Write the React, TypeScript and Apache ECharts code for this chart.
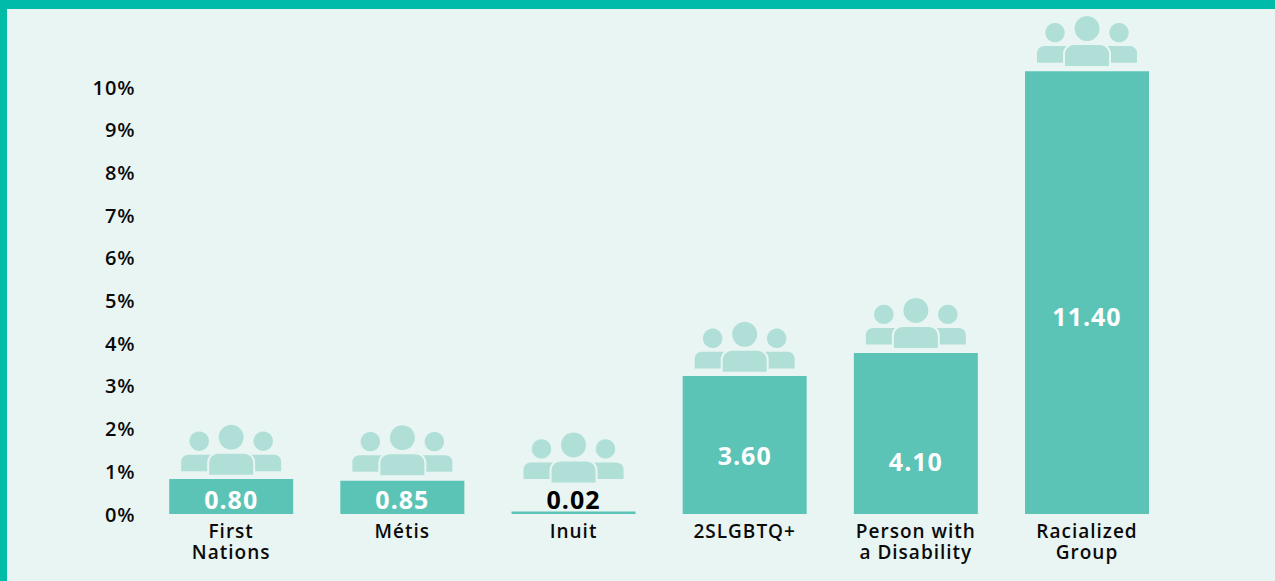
import React, { useEffect, useRef } from "react";
import * as echarts from "echarts";

const categories = ["First\nNations", "Métis", "Inuit", "2SLGBTQ+", "Person with\na Disability", "Racialized\nGroup"];
// Bar heights as drawn against the axis
const barHeights = [0.82, 0.78, 0.06, 3.23, 3.77, 10.37];
// Printed labels
const printedLabels = ["0.80", "0.85", "0.02", "3.60", "4.10", "11.40"];
// Axis level at which each printed label sits
const labelLevels = [0.36, 0.34, 0.35, 1.38, 1.23, 4.63];
// Axis level of the foot of each people icon
const iconLevels = [0.92, 0.91, 0.74, 3.33, 3.89, 10.49];
const axisMax = 12;
const shownMax = 10;

const BG = "#E9F5F3";
const EDGE = "#00BBA8";
const BAR = "#5CC4B6";
const ICON = "#B0DFD7";
const FONT = "'Open Sans', sans-serif";

function renderIcon(_params: any, api: any) {
  const [cx, base] = api.coord([api.value(0), api.value(1)]);
  const s = { fill: ICON };
  const rect = (x: number, y: number, w: number, h: number, r: number[], style: any) => ({
    type: "rect",
    shape: { x: cx + x, y: base + y, width: w, height: h, r },
    style,
  });
  const circle = (x: number, y: number, r: number) => ({
    type: "circle",
    shape: { cx: cx + x, cy: base + y, r },
    style: s,
  });
  return {
    type: "group",
    children: [
      circle(-32, -33.5, 9.7),
      circle(32, -33.5, 9.7),
      circle(0, -37.5, 12.5),
      rect(-50, -20, 32, 16.6, [7, 0, 0, 0], s),
      rect(18, -20, 32, 16.6, [0, 7, 0, 0], s),
      rect(-23, -22, 46, 23, [10, 10, 0, 0], { fill: ICON, stroke: BG, lineWidth: 2 }),
    ],
  };
}

export default function App() {
  const ref = useRef<HTMLDivElement>(null);
  useEffect(() => {
    document.body.style.margin = "0";
    const chart = echarts.init(ref.current!, undefined, { renderer: "svg" });
    chart.setOption({
      animation: false,
      backgroundColor: BG,
      graphic: [
        { type: "rect", shape: { x: 0, y: 0, width: 1275, height: 9 }, style: { fill: EDGE }, z: 10 },
        { type: "rect", shape: { x: 0, y: 0, width: 7, height: 581 }, style: { fill: EDGE }, z: 10 },
      ],
      grid: { left: 145.6, width: 1027, top: 1.6, height: 512.4 },
      xAxis: {
        type: "category",
        data: categories,
        axisLine: { show: false },
        axisTick: { show: false },
        axisLabel: {
          interval: 0,
          margin: 6,
          color: "#0A0A0A",
          fontFamily: FONT,
          fontWeight: 600,
          fontSize: 19,
          lineHeight: 21,
        },
      },
      yAxis: {
        type: "value",
        min: 0,
        max: axisMax,
        interval: 1,
        splitLine: { show: false },
        axisLine: { show: false },
        axisTick: { show: false },
        axisLabel: {
          margin: 10,
          color: "#0A0A0A",
          fontFamily: FONT,
          fontWeight: 600,
          fontSize: 20,
          formatter: (v: number) => (v > shownMax ? "" : `${v}%`),
        },
      },
      series: [
        {
          type: "bar",
          data: barHeights,
          barWidth: 124,
          itemStyle: { color: BAR },
          silent: true,
        },
        {
          type: "custom",
          data: iconLevels.map((v, i) => [i, v]),
          renderItem: renderIcon,
          encode: { x: 0, y: 1 },
          silent: true,
        },
        {
          type: "scatter",
          data: labelLevels.map((v, i) => ({
            value: [i, v],
            label: { color: printedLabels[i] === "0.02" ? "#000000" : "#FFFFFF" },
          })),
          symbolSize: 1,
          itemStyle: { color: "transparent", opacity: 1 },
          silent: true,
          label: {
            show: true,
            position: "inside",
            fontFamily: FONT,
            fontWeight: 700,
            fontSize: 25,
            textBorderWidth: 0,
            formatter: (p: any) => printedLabels[p.dataIndex],
          },
        },
      ],
    });
    return () => chart.dispose();
  }, []);
  return <div ref={ref} style={{ width: 1275, height: 581, letterSpacing: "1px" }} />;
}
